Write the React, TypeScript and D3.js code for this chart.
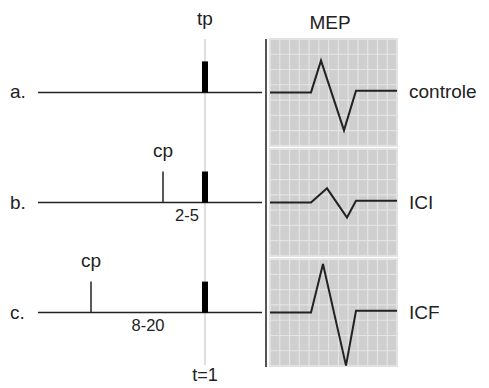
import React from "react";
import * as d3 from "d3";

// ---- data ----
const rowLabels = ["a.", "b.", "c."];
const mepLabels = ["controle", "ICI", "ICF"];
// conditioning pulse time before test pulse (schematic units), null = none
const cpTimes: (number | null)[] = [null, -4.2, -11.4];
const intervalLabels = ["", "2-5", "8-20"];
const tpTime = 0;
// MEP waveform: time points and amplitudes per condition
const mepTimes = [
  [0, 4.1, 5.1, 7.4, 8.6, 12.7],
  [0, 4.1, 5.7, 7.7, 8.6, 12.7],
  [0, 4.1, 5.3, 7.6, 8.6, 12.7],
];
const mepAmps = [
  [0, 0, 3.6, -4.3, 0.2, 0.2],
  [0, 0, 1.6, -1.7, 0.2, 0.2],
  [0, 0, 5.5, -6.0, 0.2, 0.2],
];

const W = 489;
const H = 388;
const FONT = "'Liberation Sans', Arial, sans-serif";

export default function App() {
  const xTime = d3.scaleLinear().domain([-16.7, 5.7]).range([38, 262]);
  const yRow = d3.scaleBand<number>().domain([0, 1, 2]).range([39, 366]).paddingInner(0.03);
  const rowY = (i: number) => yRow(i)! + yRow.bandwidth() / 2;
  const xMep = d3.scaleLinear().domain([0, 12.7]).range([270, 397]);
  const yAmp = d3.scaleLinear().domain([-6, 6]).range([53, -53]);
  const pulseH = 31;
  const tpX = xTime(tpTime);
  const gridCols = 13;
  const gridRows = 7;

  return (
    <svg width={W} height={H} style={{ position: "absolute", left: 0, top: 0, background: "#fff" }}>
      {/* t=1 vertical guide */}
      <line x1={tpX} x2={tpX} y1={39} y2={365} stroke="#c8c8c8" strokeWidth={1.2} />
      <text x={tpX} y={25} fontSize={19} fontFamily={FONT} textAnchor="middle" fill="#222">tp</text>
      <text x={tpX} y={381} fontSize={18} fontFamily={FONT} textAnchor="middle" fill="#222">t=1</text>
      <text x={330} y={29} fontSize={19} fontFamily={FONT} textAnchor="middle" fill="#222">MEP</text>

      {rowLabels.map((lab, i) => {
        const y = rowY(i);
        const cp = cpTimes[i];
        return (
          <g key={lab}>
            <text x={10} y={y + 6} fontSize={19} fontFamily={FONT} fill="#222">{lab}</text>
            <line x1={xTime.range()[0]} x2={xTime.range()[1]} y1={y} y2={y} stroke="#222" strokeWidth={1.5} />
            <rect x={tpX - 3} y={y - pulseH} width={6} height={pulseH} fill="#000" />
            {cp !== null && (
              <g>
                <line x1={xTime(cp)} x2={xTime(cp)} y1={y} y2={y - pulseH} stroke="#222" strokeWidth={1.5} />
                <text x={xTime(cp)} y={y - 46} fontSize={19} fontFamily={FONT} textAnchor="middle" fill="#222">cp</text>
                <text x={(xTime(cp) + tpX) / 2 + (i === 1 ? 3 : 0)} y={y + 18} fontSize={16.5} fontFamily={FONT} textAnchor="middle" fill="#222">{intervalLabels[i]}</text>
              </g>
            )}
          </g>
        );
      })}

      {/* separator */}
      <line x1={266} x2={266} y1={39} y2={367} stroke="#555" strokeWidth={2} />

      {mepLabels.map((lab, i) => {
        const y0 = yRow(i)!;
        const bh = yRow.bandwidth();
        const cy = rowY(i);
        const [x0, x1] = xMep.range();
        const colW = (x1 - x0) / gridCols;
        const rowH = bh / gridRows;
        const pts = mepTimes[i].map((t, k) => [xMep(t), cy + yAmp(mepAmps[i][k])] as [number, number]);
        const path = d3.line()(pts) || "";
        return (
          <g key={lab}>
            <rect x={x0} y={y0} width={x1 - x0} height={bh} fill="#cfcfcf" stroke="#e2e2e2" strokeWidth={2} />
            {d3.range(1, gridCols).map((c) => (
              <line key={"v" + c} x1={x0 + c * colW} x2={x0 + c * colW} y1={y0} y2={y0 + bh} stroke="#e4e4e4" strokeWidth={1.2} />
            ))}
            {d3.range(1, gridRows).map((r) => (
              <line key={"h" + r} x1={x0} x2={x1} y1={y0 + r * rowH} y2={y0 + r * rowH} stroke="#e4e4e4" strokeWidth={1.2} />
            ))}
            <path d={path} fill="none" stroke="#222" strokeWidth={2} strokeLinejoin="miter" />
            <text x={409} y={cy + 6} fontSize={19} fontFamily={FONT} fill="#222">{lab}</text>
          </g>
        );
      })}
    </svg>
  );
}
